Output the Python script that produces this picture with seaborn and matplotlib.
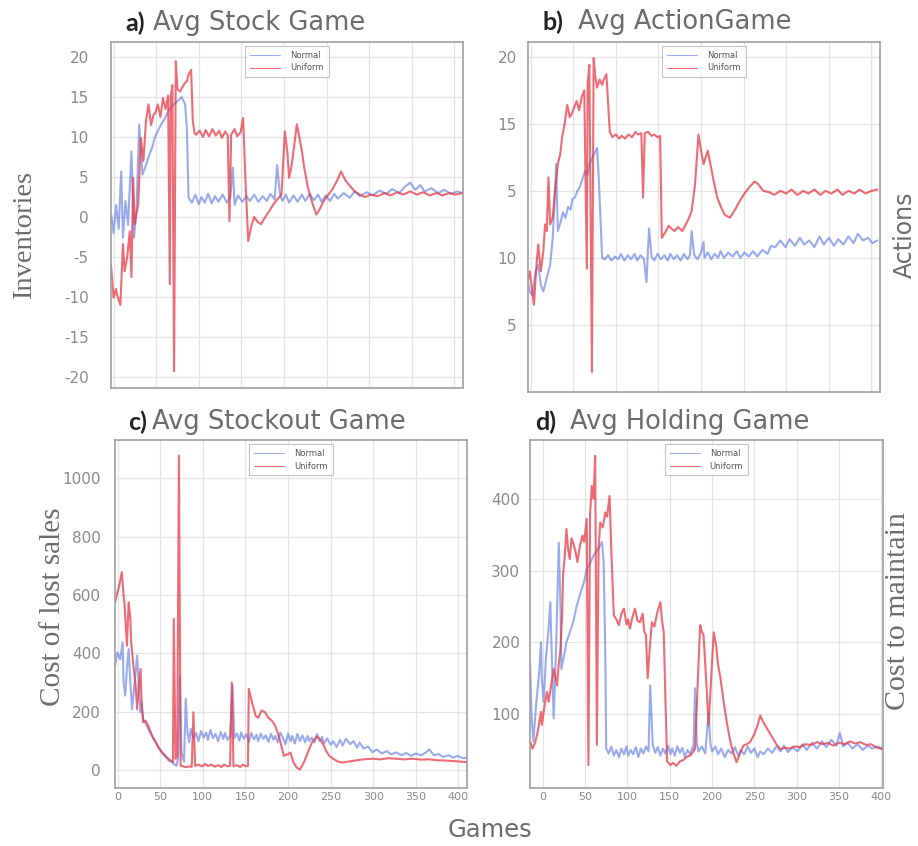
import matplotlib
matplotlib.use("Agg")
import matplotlib.pyplot as plt
import seaborn as sns

# ---------------- data ----------------
# a) average stock per game
stock_normal_x = [-3, 0, 3, 6, 9, 11, 14, 17, 21, 24, 27, 30, 34, 38, 42, 45, 48, 52, 56, 60, 64, 67, 72, 76, 80, 84, 86, 88, 92, 96, 100, 103, 107, 111, 115, 119, 123, 128, 133, 137, 140, 142, 146, 151, 156, 160, 165, 170, 175, 180, 184, 189, 192, 195, 198, 202, 206, 211, 216, 221, 225, 230, 235, 240, 244, 249, 254, 259, 263, 270, 277, 283, 289, 297, 304, 312, 320, 327, 335, 342, 348, 354, 360, 365, 373, 381, 388, 396, 403, 410]
stock_normal_y = [0.5, -2.0, 1.5, -1.5, 5.7, -2.6, 2.0, -1.0, 8.2, -2.6, 1.0, 11.6, 5.3, 6.5, 7.8, 8.6, 9.8, 10.8, 11.6, 12.3, 13.2, 13.7, 14.2, 14.6, 15.0, 14.1, 11.0, 2.4, 1.8, 2.8, 1.6, 2.5, 1.8, 2.9, 1.7, 2.6, 1.9, 2.8, 1.8, 2.5, 6.2, 1.5, 2.7, 1.9, 2.6, 2.0, 2.8, 1.9, 2.6, 2.0, 2.9, 2.2, 6.5, 3.0, 2.0, 2.8, 1.8, 2.7, 1.9, 2.8, 2.0, 2.9, 2.1, 2.8, 1.9, 2.7, 2.0, 2.9, 2.3, 3.0, 2.4, 3.2, 2.6, 3.1, 2.7, 3.3, 2.9, 3.5, 3.0, 3.8, 4.3, 3.4, 4.0, 3.2, 3.6, 3.0, 3.4, 2.9, 3.2, 3.0]
stock_uniform_x = [-3, 0, 3, 4, 8, 11, 13, 16, 19, 21, 23, 25, 27, 29, 32, 35, 38, 41, 44, 47, 49, 52, 55, 58, 61, 64, 66, 67, 69, 71, 73, 75, 78, 81, 84, 86, 88, 91, 93, 95, 97, 101, 105, 108, 112, 116, 120, 124, 127, 131, 134, 136, 138, 142, 145, 149, 152, 155, 158, 162, 165, 169, 173, 178, 183, 187, 192, 197, 201, 204, 206, 209, 212, 215, 218, 221, 224, 228, 233, 238, 242, 246, 252, 257, 262, 267, 272, 278, 283, 289, 295, 302, 310, 318, 325, 333, 340, 348, 356, 363, 371, 379, 386, 394, 401, 410]
stock_uniform_y = [-6.0, -10.1, -9.0, -9.7, -11.0, -3.4, -6.8, -5.0, -1.8, -7.5, 4.9, -0.9, 0.5, 1.6, 9.9, 7.0, 12.0, 14.1, 11.5, 12.8, 13.0, 14.1, 12.5, 14.9, 13.5, 15.2, -8.4, 15.0, 16.5, -19.3, 19.5, 16.0, 15.7, 16.3, 16.8, 17.0, 17.8, 18.4, 12.0, 10.5, 10.3, 10.8, 10.0, 10.9, 10.1, 11.0, 10.2, 10.8, 9.9, 10.7, 10.2, -0.5, 10.3, 11.0, 10.1, 10.6, 12.4, 4.0, -3.0, -1.0, 0.0, -0.6, -0.9, 0.0, 0.8, 1.5, 2.2, 2.8, 10.7, 8.0, 4.9, 6.5, 9.0, 11.6, 10.0, 8.2, 6.0, 3.7, 1.8, 0.3, 1.0, 1.9, 2.8, 3.5, 4.5, 5.7, 4.6, 3.8, 3.2, 2.8, 2.5, 2.8, 2.6, 3.0, 2.7, 3.1, 2.8, 3.2, 2.8, 3.1, 2.7, 3.0, 2.7, 3.0, 2.8, 3.0]

# b) average action per game
action_normal_x = [-4, -1, 2, 6, 9, 12, 15, 19, 23, 26, 28, 30, 32, 35, 38, 41, 44, 47, 49, 52, 55, 58, 61, 64, 67, 69, 72, 75, 78, 80, 82, 84, 87, 91, 95, 99, 103, 106, 110, 114, 118, 122, 125, 129, 133, 136, 139, 142, 145, 149, 153, 157, 161, 164, 168, 172, 176, 180, 184, 187, 189, 192, 196, 200, 203, 204, 208, 212, 216, 220, 223, 227, 232, 237, 242, 246, 251, 256, 261, 266, 272, 278, 282, 287, 293, 299, 304, 310, 316, 321, 327, 333, 339, 344, 350, 356, 361, 367, 373, 379, 384, 390, 396, 401, 407]
action_normal_y = [3.5, 2.5, 2.2, 4.0, 4.5, 3.0, 2.5, 3.5, 4.5, 6.5, 9.0, 12.0, 7.0, 7.6, 8.4, 8.0, 8.8, 8.6, 9.4, 9.5, 10.0, 10.3, 10.9, 11.5, 11.2, 12.0, 12.4, 12.8, 13.2, 11.0, 8.0, 5.0, 4.9, 5.2, 4.8, 5.1, 4.9, 5.3, 4.8, 5.2, 4.9, 5.3, 4.8, 5.2, 4.9, 3.2, 7.2, 5.1, 4.8, 5.3, 4.9, 5.2, 4.8, 5.3, 4.9, 5.2, 4.8, 5.3, 4.9, 5.2, 7.0, 5.2, 4.9, 5.4, 6.2, 5.0, 5.4, 4.9, 5.3, 5.0, 5.5, 5.0, 5.4, 5.1, 5.5, 5.0, 5.4, 5.1, 5.5, 5.1, 5.6, 5.3, 5.9, 5.8, 6.3, 5.8, 6.4, 5.9, 6.5, 6.0, 6.3, 5.8, 6.6, 6.0, 6.5, 5.9, 6.4, 6.0, 6.6, 6.1, 6.8, 6.3, 6.5, 6.1, 6.3]
action_uniform_x = [-4, -1, 2, 4, 7, 9, 12, 15, 17, 19, 21, 23, 26, 28, 32, 35, 37, 40, 43, 46, 48, 51, 54, 57, 60, 63, 66, 67, 69, 72, 74, 76, 78, 81, 84, 86, 89, 91, 93, 96, 100, 104, 107, 111, 115, 119, 123, 126, 130, 132, 134, 138, 142, 145, 149, 152, 154, 158, 162, 165, 169, 173, 178, 183, 186, 189, 193, 197, 200, 203, 205, 208, 211, 214, 219, 224, 228, 234, 240, 245, 251, 257, 263, 267, 273, 280, 286, 293, 300, 306, 313, 320, 326, 333, 340, 346, 353, 360, 366, 373, 380, 386, 393, 400, 407]
action_uniform_y = [3.0, 4.0, 2.5, 1.5, 4.5, 6.0, 4.0, 5.5, 7.5, 7.0, 11.0, 7.5, 8.0, 9.5, 12.0, 12.8, 14.0, 15.0, 16.4, 15.5, 15.7, 16.2, 16.7, 16.0, 17.0, 17.5, 4.2, 18.0, 19.4, -3.5, 19.9, 18.5, 17.7, 18.3, 17.9, 18.3, 18.7, 16.5, 14.4, 14.0, 14.2, 13.9, 14.1, 13.9, 14.2, 14.0, 14.4, 14.2, 14.3, 9.5, 14.3, 14.4, 14.1, 14.2, 14.0, 14.1, 6.5, 6.9, 7.4, 7.2, 7.0, 7.3, 7.0, 7.6, 8.0, 8.5, 10.5, 14.2, 13.0, 12.0, 12.4, 13.0, 12.0, 11.0, 9.5, 8.7, 8.2, 8.0, 8.6, 9.2, 9.8, 10.3, 10.7, 10.5, 10.0, 9.9, 9.7, 10.0, 9.8, 10.1, 9.7, 10.0, 9.8, 10.1, 9.7, 10.0, 9.8, 10.1, 9.7, 10.0, 9.8, 10.1, 9.8, 10.0, 10.1]

# c) average stockout cost per game
stockout_normal_x = [-3, 0, 3, 6, 7, 9, 11, 13, 15, 17, 20, 23, 25, 27, 28, 30, 33, 36, 39, 42, 45, 48, 52, 56, 60, 64, 66, 69, 71, 73, 75, 78, 80, 82, 84, 86, 89, 92, 95, 98, 101, 104, 106, 109, 112, 115, 118, 121, 124, 126, 129, 132, 135, 137, 140, 143, 145, 148, 151, 154, 157, 160, 163, 165, 168, 171, 174, 177, 180, 183, 185, 188, 191, 194, 197, 200, 203, 205, 208, 211, 214, 217, 220, 223, 225, 228, 231, 234, 237, 240, 242, 246, 250, 253, 257, 261, 264, 268, 273, 277, 281, 284, 289, 294, 299, 304, 310, 316, 321, 327, 333, 339, 344, 350, 356, 361, 366, 371, 377, 382, 388, 394, 399, 405, 410]
stockout_normal_y = [358, 404, 380, 438, 300, 256, 350, 415, 300, 210, 300, 393, 280, 199, 230, 176, 160, 142, 125, 110, 96, 80, 62, 48, 34, 28, 22, 16, 40, 321, 60, 30, 245, 130, 96, 142, 110, 128, 100, 135, 112, 130, 104, 138, 110, 125, 100, 132, 108, 128, 104, 120, 290, 110, 126, 102, 130, 108, 124, 98, 128, 106, 122, 100, 126, 108, 120, 98, 125, 105, 118, 96, 130, 112, 90, 126, 100, 118, 92, 125, 100, 120, 96, 118, 100, 112, 95, 125, 100, 115, 92, 110, 88, 100, 80, 105, 85, 108, 90, 100, 78, 95, 75, 82, 62, 72, 58, 66, 55, 62, 52, 60, 50, 58, 52, 60, 72, 52, 56, 46, 52, 44, 50, 42, 44]
stockout_uniform_x = [-3, 0, 2, 5, 7, 8, 11, 13, 15, 16, 19, 21, 23, 25, 27, 28, 30, 33, 36, 39, 42, 45, 48, 52, 56, 60, 63, 65, 66, 68, 70, 72, 74, 77, 80, 84, 87, 89, 91, 95, 99, 103, 106, 110, 114, 118, 122, 125, 129, 132, 134, 136, 140, 144, 147, 151, 153, 154, 158, 162, 165, 169, 173, 177, 181, 185, 190, 195, 199, 203, 206, 210, 214, 219, 223, 228, 234, 238, 242, 245, 249, 254, 259, 264, 270, 277, 283, 289, 299, 308, 318, 327, 337, 346, 356, 365, 375, 384, 394, 403, 410]
stockout_uniform_y = [575, 610, 632, 678, 600, 575, 427, 575, 520, 438, 347, 300, 210, 290, 347, 250, 165, 170, 153, 130, 110, 96, 78, 62, 50, 39, 33, 28, 518, 40, 50, 1077, 16, 14, 11, 14, 12, 199, 16, 20, 14, 22, 15, 20, 13, 18, 12, 20, 14, 16, 301, 14, 18, 12, 20, 14, 16, 279, 230, 187, 180, 205, 199, 180, 170, 153, 110, 50, 55, 61, 30, 10, 3, 30, 60, 95, 116, 105, 85, 65, 48, 38, 30, 27, 30, 33, 36, 38, 40, 38, 42, 40, 38, 40, 37, 38, 35, 34, 32, 30, 28]

# d) average holding cost per game
holding_normal_x = [-15, -13, -11, -8, -4, -2, -1, 1, 4, 7, 9, 11, 13, 16, 19, 21, 22, 25, 28, 32, 36, 40, 45, 49, 52, 56, 60, 64, 68, 70, 72, 74, 75, 78, 81, 84, 87, 90, 93, 96, 99, 101, 104, 107, 110, 113, 116, 119, 122, 125, 127, 130, 133, 136, 139, 142, 145, 148, 151, 153, 156, 159, 162, 165, 168, 171, 174, 177, 178, 180, 182, 184, 188, 192, 196, 198, 200, 204, 207, 211, 215, 219, 223, 227, 231, 234, 238, 242, 246, 250, 254, 257, 261, 266, 271, 276, 281, 285, 290, 295, 301, 307, 312, 318, 324, 330, 335, 341, 347, 351, 355, 360, 366, 372, 378, 384, 389, 395, 402]
holding_normal_y = [173, 94, 62, 110, 160, 200, 150, 117, 180, 220, 256, 170, 94, 200, 339, 250, 163, 180, 200, 214, 228, 250, 270, 285, 302, 310, 321, 328, 335, 340, 312, 180, 52, 45, 55, 42, 50, 40, 52, 44, 55, 42, 50, 44, 54, 40, 52, 45, 55, 48, 140, 57, 46, 54, 42, 52, 45, 56, 44, 52, 42, 55, 46, 53, 40, 50, 44, 54, 50, 136, 60, 48, 55, 45, 103, 60, 48, 55, 44, 52, 40, 50, 45, 54, 42, 50, 44, 55, 46, 52, 40, 48, 44, 52, 46, 55, 48, 56, 47, 54, 48, 58, 50, 60, 52, 62, 54, 64, 56, 74, 55, 60, 52, 58, 50, 56, 52, 55, 52]
holding_uniform_x = [-15, -12, -9, -6, -2, -1, 2, 5, 7, 10, 13, 17, 19, 21, 23, 24, 26, 28, 30, 32, 34, 36, 39, 41, 44, 47, 49, 52, 54, 56, 58, 60, 62, 64, 66, 68, 71, 74, 76, 79, 81, 84, 87, 90, 93, 96, 99, 101, 103, 106, 109, 112, 115, 118, 120, 122, 124, 127, 129, 132, 135, 139, 141, 143, 145, 147, 151, 154, 158, 162, 166, 170, 175, 178, 180, 183, 186, 188, 190, 193, 196, 199, 202, 205, 207, 210, 214, 218, 222, 225, 229, 233, 237, 241, 245, 250, 254, 257, 260, 264, 268, 272, 276, 281, 286, 292, 298, 304, 310, 317, 324, 331, 337, 343, 350, 357, 363, 369, 375, 382, 388, 395, 402]
holding_uniform_y = [62, 52, 60, 75, 103, 85, 110, 131, 117, 140, 163, 140, 170, 191, 240, 293, 320, 358, 330, 316, 345, 339, 325, 312, 335, 349, 340, 372, 29, 380, 418, 400, 460, 57, 330, 367, 360, 381, 375, 404, 330, 238, 232, 224, 240, 247, 225, 232, 219, 235, 247, 230, 228, 240, 215, 210, 150, 200, 228, 222, 240, 256, 230, 214, 120, 34, 29, 32, 28, 34, 36, 40, 43, 48, 52, 140, 224, 215, 210, 150, 85, 150, 214, 195, 170, 150, 115, 85, 60, 47, 33, 45, 56, 58, 61, 72, 85, 98, 90, 82, 74, 66, 58, 51, 53, 52, 55, 54, 58, 57, 61, 58, 60, 56, 60, 58, 62, 59, 61, 57, 58, 53, 51]

game_ticks = [0, 50, 100, 150, 200, 250, 300, 350, 400]
stock_ticks = [-20, -15, -10, -5, 0, 5, 10, 15, 20]
action_ticks = [0, 5, 10, 15, 20]
action_tick_labels = ["5", "10", "5", "15", "20"]
stockout_ticks = [0, 200, 400, 600, 800, 1000]
holding_ticks = [100, 200, 300, 400]

# ---------------- style ----------------
sns.set_theme(style="whitegrid")
plt.rcParams["font.family"] = ["DejaVu Sans"]
plt.rcParams["axes.unicode_minus"] = False

RED = "#e63a47"
BLUE = "#5674e0"
GRID = "#e4e4e4"
SPINE = "#a0a0a0"
TICK = "#8a8a8a"
TITLE = "#6c6c6c"

W, H = 918, 846
fig = plt.figure(figsize=(W / 100, H / 100), dpi=100)


def box(left, top, right, bottom):
    return [left / W, 1 - bottom / H, (right - left) / W, (bottom - top) / H]


panels = [
    dict(rect=box(111, 42, 463, 388), nx=stock_normal_x, ny=stock_normal_y,
         ux=stock_uniform_x, uy=stock_uniform_y, xlim=(-3, 410), ylim=(-21.4, 21.9),
         yt=stock_ticks, ytl=[str(t) for t in stock_ticks], xlab=False, ypad=16),
    dict(rect=box(528, 42, 880, 392), nx=action_normal_x, ny=action_normal_y,
         ux=action_uniform_x, uy=action_uniform_y, xlim=(-3, 410), ylim=(-5.0, 21.1),
         yt=action_ticks, ytl=action_tick_labels, xlab=False, ypad=8),
    dict(rect=box(115, 440, 467, 788), nx=stockout_normal_x, ny=stockout_normal_y,
         ux=stockout_uniform_x, uy=stockout_uniform_y, xlim=(-3, 410), ylim=(-60, 1130),
         yt=stockout_ticks, ytl=[str(t) for t in stockout_ticks], xlab=True, ypad=10),
    dict(rect=box(530, 440, 883, 788), nx=holding_normal_x, ny=holding_normal_y,
         ux=holding_uniform_x, uy=holding_uniform_y, xlim=(-15, 402), ylim=(-3, 482),
         yt=holding_ticks, ytl=[str(t) for t in holding_ticks], xlab=True, ypad=7),
]

for p in panels:
    ax = fig.add_axes(p["rect"])
    sns.lineplot(x=p["nx"], y=p["ny"], ax=ax, color=BLUE, lw=1.5, alpha=0.6,
                 label="Normal", estimator=None, sort=False)
    sns.lineplot(x=p["ux"], y=p["uy"], ax=ax, color=RED, lw=1.5, alpha=0.75,
                 label="Uniform", estimator=None, sort=False)
    ax.set_xlim(*p["xlim"])
    ax.set_ylim(*p["ylim"])
    ax.set_xticks(game_ticks)
    ax.set_yticks(p["yt"])
    ax.set_yticklabels(p["ytl"])
    ax.set_xlabel("")
    ax.set_ylabel("")
    ax.grid(True, color=GRID, lw=0.9)
    for s in ax.spines.values():
        s.set_visible(True)
        s.set_color(SPINE)
        s.set_linewidth(1.2)
    ax.tick_params(axis="y", labelsize=11, labelcolor=TICK, pad=p["ypad"], length=0)
    ax.tick_params(axis="x", labelsize=8, labelcolor=TICK, pad=3, length=0,
                   labelbottom=p["xlab"])
    leg = ax.legend(loc="upper center", fontsize=6, handlelength=3.6,
                    frameon=True, fancybox=False, borderpad=0.6, labelspacing=0.4,
                    handletextpad=1.2)
    leg.get_frame().set_edgecolor("#b5b5b5")
    leg.get_frame().set_linewidth(0.8)
    for line in leg.get_lines():
        line.set_linewidth(0.8)
    for t in leg.get_texts():
        t.set_color("#555555")

# panel titles
titles = [
    (125, 23, "a)", 153, "Avg Stock Game"),
    (543, 22, "b)", 578, "Avg ActionGame"),
    (128, 422, "c)", 152, "Avg Stockout Game"),
    (535, 422, "d)", 570, "Avg Holding Game"),
]
for xl, yc, tag, xt, text in titles:
    fig.text(xl / W, 1 - yc / H, tag, ha="left", va="center", fontsize=18,
             fontweight="bold", color="#222222", family="Lato")
    fig.text(xt / W, 1 - yc / H, text, ha="left", va="center", fontsize=18.5,
             color=TITLE)

# axis titles
fig.text(25 / W, 1 - 235 / H, "Inventories", rotation=90, ha="center", va="center",
         fontsize=20.5, color=TITLE, family="Liberation Serif")
fig.text(905 / W, 1 - 235 / H, "Actions", rotation=90, ha="center", va="center",
         fontsize=17, color=TITLE)
fig.text(53 / W, 1 - 607 / H, "Cost of lost sales", rotation=90, ha="center",
         va="center", fontsize=21, color=TITLE, family="Liberation Serif")
fig.text(898 / W, 1 - 611 / H, "Cost to maintain", rotation=90, ha="center",
         va="center", fontsize=21.5, color=TITLE, family="Liberation Serif")
fig.text(490 / W, 1 - 830 / H, "Games", ha="center", va="center", fontsize=17.5,
         color=TITLE)

fig.savefig("out.png", dpi=100, facecolor="white")
